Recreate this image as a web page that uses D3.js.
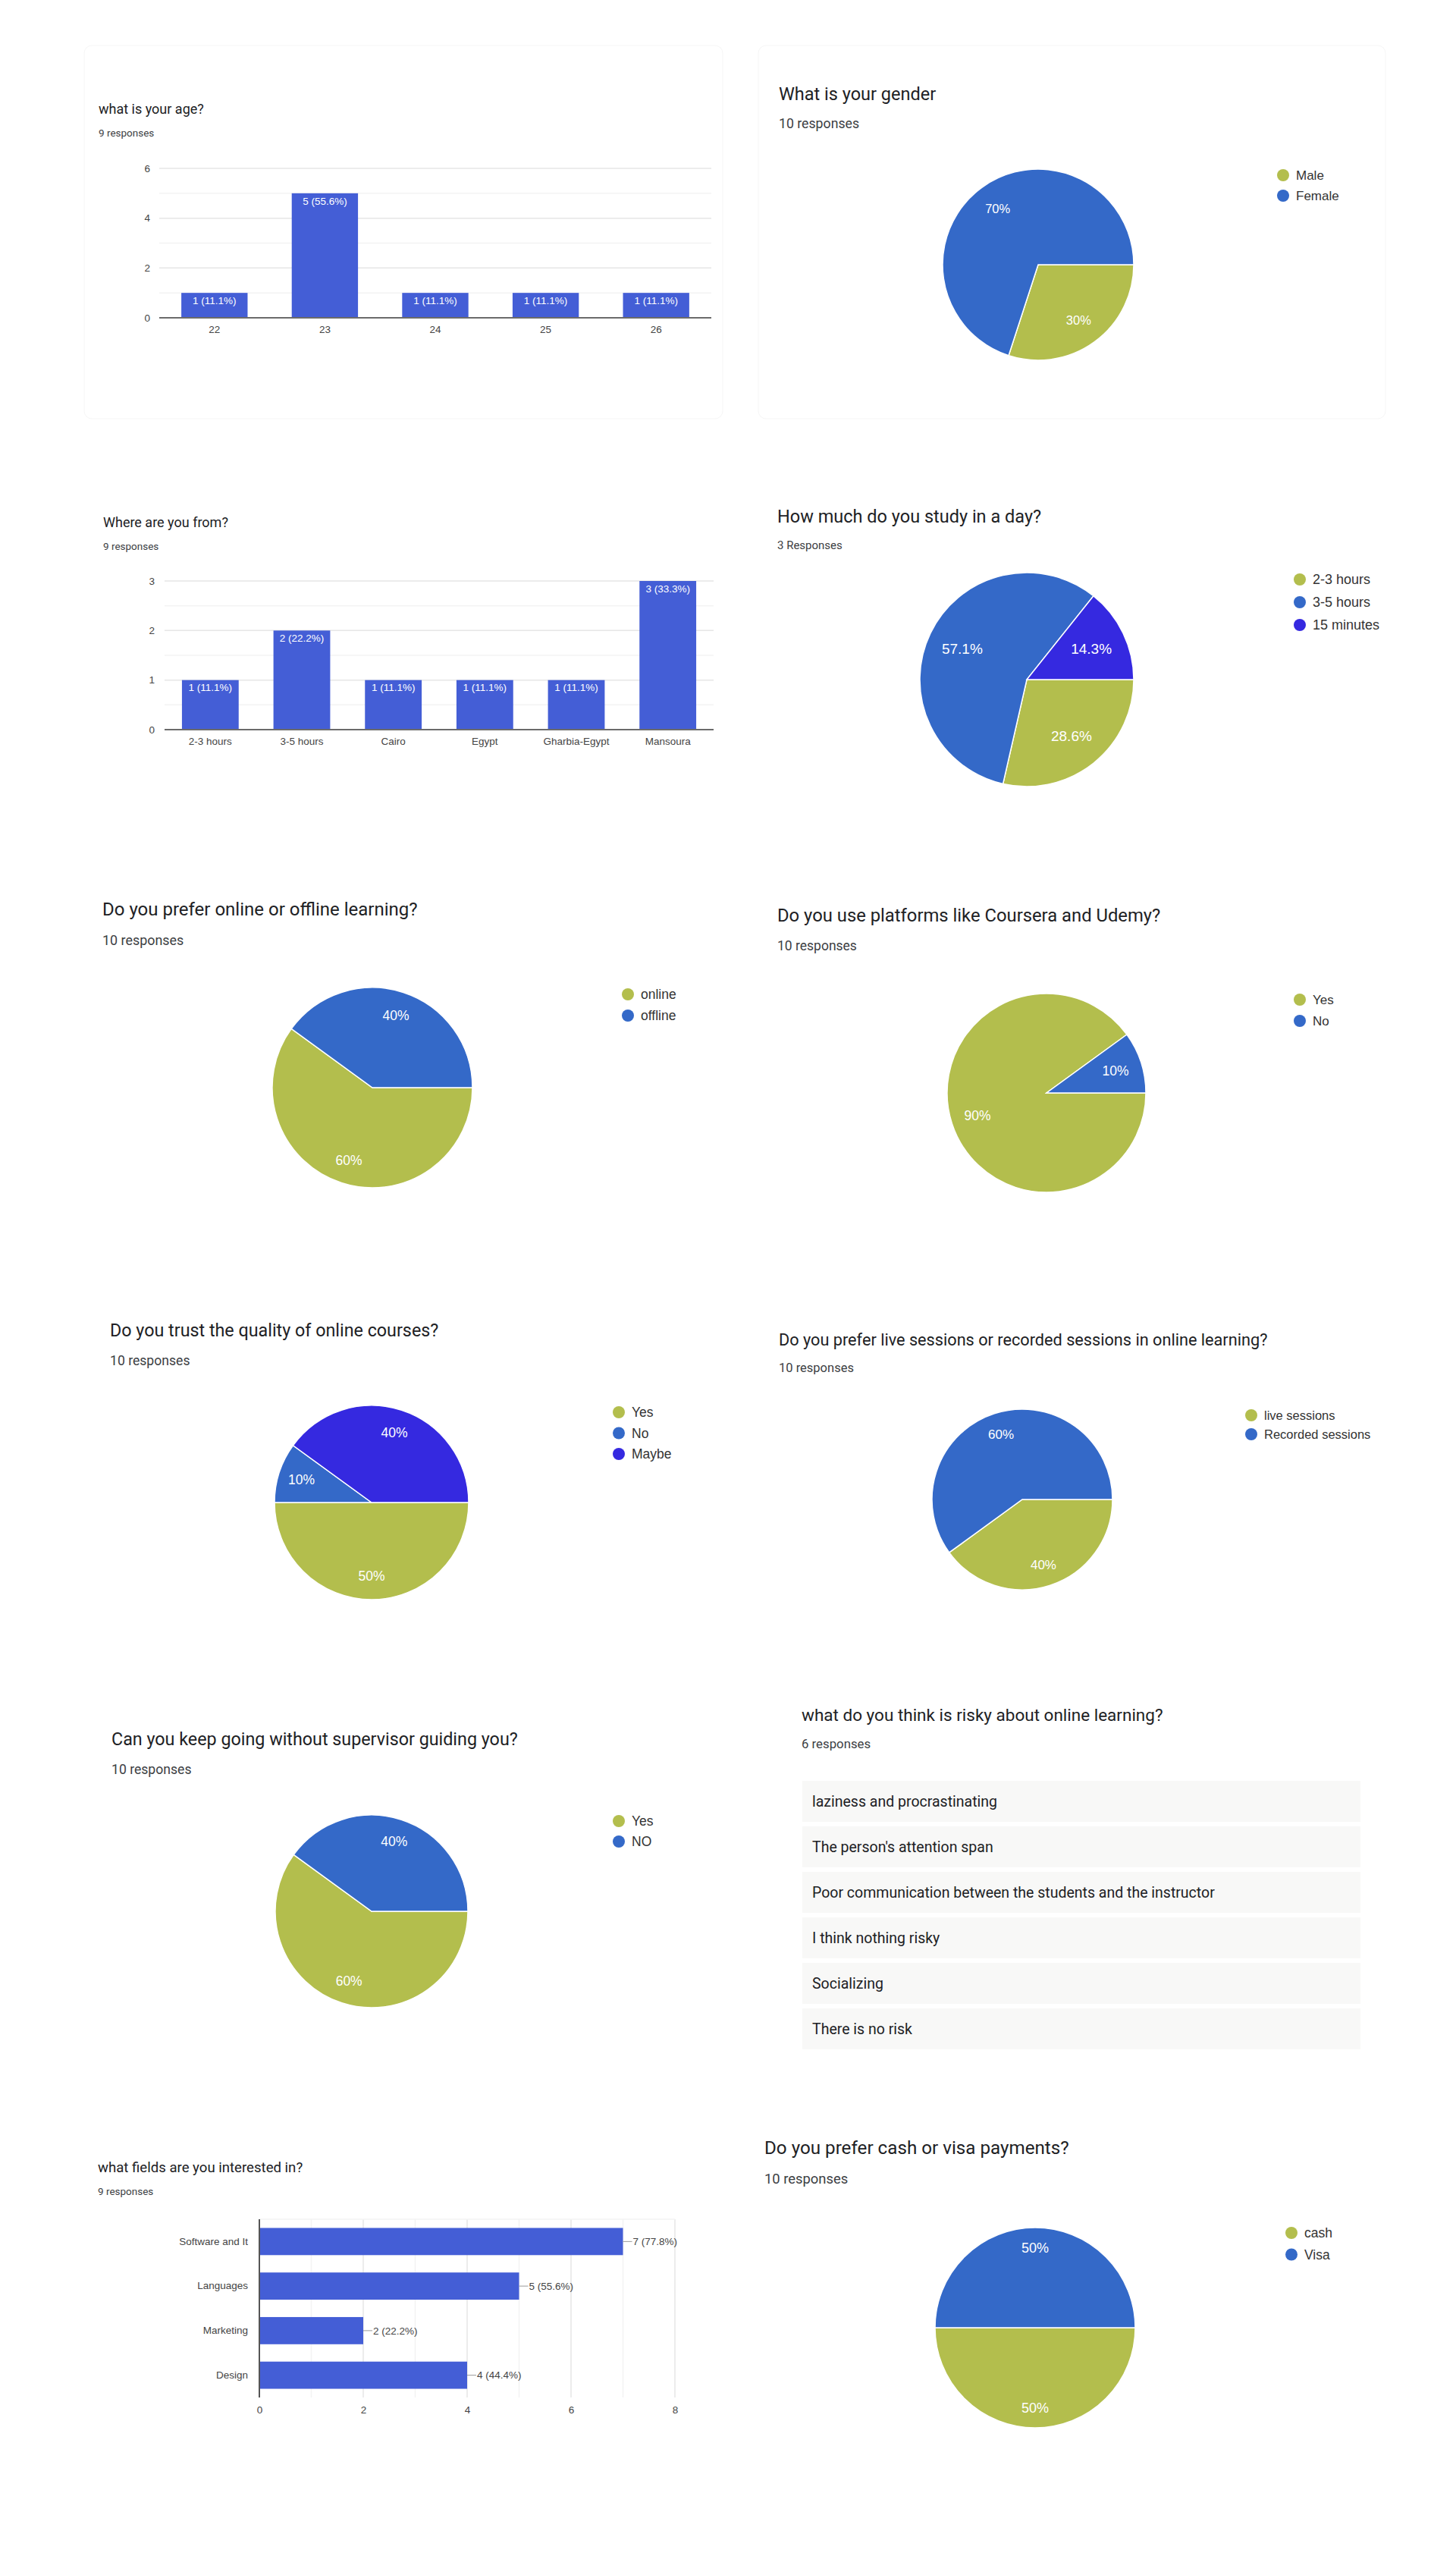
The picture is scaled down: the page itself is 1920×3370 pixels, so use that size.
<!DOCTYPE html>
<html>
<head>
<meta charset="utf-8">
<script src="https://cdn.jsdelivr.net/npm/d3@7"></script>
<style>
    body { margin: 0; background: #ffffff; }
    text { font-family: "Liberation Sans", Arial, sans-serif; }
    .title { font-family: Roboto, "Noto Sans", sans-serif; fill: #202124; }
    .resp { font-family: Roboto, "Noto Sans", sans-serif; fill: #3c4043; }
</style>
</head>
<body>
<div id="chart"></div>
<script>
// ---- data ----
const ageCategories = ['22', '23', '24', '25', '26'];
const ageCounts = [1, 5, 1, 1, 1];
const ageTicks = [0, 2, 4, 6];

const originCategories = ['2-3 hours', '3-5 hours', 'Cairo', 'Egypt', 'Gharbia-Egypt', 'Mansoura'];
const originCounts = [1, 2, 1, 1, 1, 3];
const originTicks = [0, 1, 2, 3];

const fieldCategories = ['Software and It', 'Languages', 'Marketing', 'Design'];
const fieldCounts = [7, 5, 2, 4];
const fieldTicks = [0, 2, 4, 6, 8];

const genderLabels = ['Male', 'Female'];
const genderCounts = [3, 7];
const studyLabels = ['2-3 hours', '3-5 hours', '15 minutes'];
const studyCounts = [2, 4, 1];
const modeLabels = ['online', 'offline'];
const modeCounts = [6, 4];
const platformLabels = ['Yes', 'No'];
const platformCounts = [9, 1];
const trustLabels = ['Yes', 'No', 'Maybe'];
const trustCounts = [5, 1, 4];
const sessionLabels = ['live sessions', 'Recorded sessions'];
const sessionCounts = [4, 6];
const supervisorLabels = ['Yes', 'NO'];
const supervisorCounts = [6, 4];
const paymentLabels = ['cash', 'Visa'];
const paymentCounts = [5, 5];

const riskAnswers = [
    'laziness and procrastinating',
    "The person's attention span",
    'Poor communication between the students and the instructor',
    'I think nothing risky',
    'Socializing',
    'There is no risk'
];

const sliceColors = ['#b3be4d', '#3469c8', '#3529e0'];
const barColor = '#445ed6';

const svg = d3.select('#chart')
    .append('svg')
    .attr('width', 1920)
    .attr('height', 3370);

svg.append('rect').attr('width', 1920).attr('height', 3370).attr('fill', '#ffffff');

// faint card outlines of the first two screenshots
[[111, 60, 842, 492], [1000, 60, 827, 492]].forEach(([x, y, w, h]) => {
    svg.append('rect')
        .attr('x', x).attr('y', y).attr('width', w).attr('height', h)
        .attr('rx', 10)
        .attr('fill', 'none')
        .attr('stroke', '#f6f6f6');
});

function header(p) {
    svg.append('text')
        .attr('class', 'title')
        .attr('x', p.x).attr('y', p.titleY).attr('dy', '0.35em')
        .style('font-size', p.titleSize + 'px')
        .text(p.title);
    svg.append('text')
        .attr('class', 'resp')
        .attr('x', p.x).attr('y', p.respY).attr('dy', '0.35em')
        .style('font-size', p.respSize + 'px')
        .text(p.resp);
}

const pct = v => (+(v * 100).toFixed(1)) + '%';

function drawColumns(cats, counts, ticks, total, p) {
    const g = svg.append('g');
    const top = d3.max(ticks);
    const x = d3.scaleBand().domain(cats).range([p.left, p.right])
        .paddingInner(p.pad).paddingOuter(p.pad / 2);
    const y = d3.scaleLinear().domain([0, top]).range([p.bottom, p.top]);

    g.selectAll('.grid')
        .data(d3.range(p.minor, top + 1e-9, p.minor))
        .enter().append('line')
        .attr('x1', p.left).attr('x2', p.right)
        .attr('y1', d => y(d)).attr('y2', d => y(d))
        .attr('stroke', d => ticks.includes(d) ? '#e6e6e6' : '#f3f3f3')
        .attr('stroke-width', 1.5);

    g.selectAll('.bar')
        .data(cats)
        .enter().append('rect')
        .attr('x', d => x(d))
        .attr('width', x.bandwidth())
        .attr('y', (d, i) => y(counts[i]))
        .attr('height', (d, i) => y(0) - y(counts[i]))
        .attr('fill', barColor);

    g.selectAll('.val')
        .data(cats)
        .enter().append('text')
        .attr('x', d => x(d) + x.bandwidth() / 2)
        .attr('y', (d, i) => y(counts[i]) + 10)
        .attr('dy', '0.35em')
        .attr('text-anchor', 'middle')
        .attr('fill', '#ffffff')
        .style('font-size', p.valueSize + 'px')
        .text((d, i) => `${counts[i]} (${(counts[i] / total * 100).toFixed(1)}%)`);

    g.append('line')
        .attr('x1', p.left).attr('x2', p.right)
        .attr('y1', y(0)).attr('y2', y(0))
        .attr('stroke', '#6b6b6b').attr('stroke-width', 2);

    const yAxis = g.append('g')
        .attr('transform', `translate(${p.left},0)`)
        .call(d3.axisLeft(y).tickValues(ticks).tickSize(0).tickPadding(p.yPad).tickFormat(d3.format('d')));
    const xAxis = g.append('g')
        .attr('transform', `translate(0,${p.bottom})`)
        .call(d3.axisBottom(x).tickSize(0).tickPadding(p.xPad));
    [yAxis, xAxis].forEach(a => {
        a.select('.domain').remove();
        a.selectAll('text')
            .attr('fill', '#444')
            .style('font-family', '"Liberation Sans", Arial, sans-serif')
            .style('font-size', p.tickSize + 'px');
    });
}

function drawBars(cats, counts, ticks, total, p) {
    const g = svg.append('g');
    const top = d3.max(ticks);
    const x = d3.scaleLinear().domain([0, top]).range([p.left, p.right]);
    const y = d3.scaleBand().domain(cats).range([p.top, p.bottom])
        .paddingInner(p.pad).paddingOuter(p.pad / 2);

    g.selectAll('.grid')
        .data(d3.range(1, top + 1))
        .enter().append('line')
        .attr('x1', d => x(d)).attr('x2', d => x(d))
        .attr('y1', p.top).attr('y2', p.bottom)
        .attr('stroke', d => ticks.includes(d) ? '#e6e6e6' : '#f3f3f3')
        .attr('stroke-width', 1.5);
    g.append('line')
        .attr('x1', p.left).attr('x2', p.right)
        .attr('y1', p.top).attr('y2', p.top)
        .attr('stroke', '#f3f3f3').attr('stroke-width', 1.5);

    g.selectAll('.bar')
        .data(cats)
        .enter().append('rect')
        .attr('x', x(0))
        .attr('y', d => y(d))
        .attr('width', (d, i) => x(counts[i]) - x(0))
        .attr('height', y.bandwidth())
        .attr('fill', barColor);

    g.selectAll('.lead')
        .data(cats)
        .enter().append('line')
        .attr('x1', (d, i) => x(counts[i]))
        .attr('x2', (d, i) => x(counts[i]) + 12)
        .attr('y1', d => y(d) + y.bandwidth() / 2)
        .attr('y2', d => y(d) + y.bandwidth() / 2)
        .attr('stroke', '#9a9a9a');

    g.selectAll('.val')
        .data(cats)
        .enter().append('text')
        .attr('x', (d, i) => x(counts[i]) + 13)
        .attr('y', d => y(d) + y.bandwidth() / 2)
        .attr('dy', '0.35em')
        .attr('fill', '#444')
        .style('font-size', p.valueSize + 'px')
        .text((d, i) => `${counts[i]} (${(counts[i] / total * 100).toFixed(1)}%)`);

    g.append('line')
        .attr('x1', p.left).attr('x2', p.left)
        .attr('y1', p.top).attr('y2', p.bottom)
        .attr('stroke', '#555').attr('stroke-width', 2);

    const yAxis = g.append('g')
        .attr('transform', `translate(${p.left},0)`)
        .call(d3.axisLeft(y).tickSize(0).tickPadding(p.yPad));
    const xAxis = g.append('g')
        .attr('transform', `translate(0,${p.bottom})`)
        .call(d3.axisBottom(x).tickValues(ticks).tickSize(0).tickPadding(p.xPad));
    [yAxis, xAxis].forEach(a => {
        a.select('.domain').remove();
        a.selectAll('text')
            .attr('fill', '#444')
            .style('font-family', '"Liberation Sans", Arial, sans-serif')
            .style('font-size', p.tickSize + 'px');
    });
}

function drawPie(labels, counts, p) {
    const g = svg.append('g').attr('transform', `translate(${p.cx},${p.cy})`);
    const total = d3.sum(counts);
    const pie = d3.pie().sort(null)
        .startAngle(Math.PI / 2)
        .endAngle(Math.PI / 2 + 2 * Math.PI);
    const arcs = pie(counts);
    const arc = d3.arc().innerRadius(0).outerRadius(p.r);
    const labelArc = d3.arc().innerRadius(p.r * p.lab).outerRadius(p.r * p.lab);

    g.selectAll('path')
        .data(arcs)
        .enter().append('path')
        .attr('d', arc)
        .attr('fill', (d, i) => sliceColors[i])
        .attr('stroke', '#ffffff')
        .attr('stroke-width', 1.5);

    g.selectAll('.pl')
        .data(arcs)
        .enter().append('text')
        .attr('transform', d => `translate(${labelArc.centroid(d)})`)
        .attr('dy', '0.35em')
        .attr('text-anchor', 'middle')
        .attr('fill', '#ffffff')
        .style('font-size', p.labelSize + 'px')
        .text(d => pct(d.data / total));

    const lg = svg.append('g');
    const item = lg.selectAll('.item')
        .data(labels)
        .enter().append('g')
        .attr('transform', (d, i) => `translate(${p.lx},${p.ly + i * p.lstep})`);
    item.append('circle')
        .attr('r', 8)
        .attr('fill', (d, i) => sliceColors[i]);
    item.append('text')
        .attr('x', 17)
        .attr('dy', '0.35em')
        .attr('fill', '#333')
        .style('font-size', p.legendSize + 'px')
        .text(d => d);
}

function drawAnswers(answers, p) {
    const y = d3.scaleBand().domain(answers).range([p.top, p.bottom]).paddingInner(0.1);
    const row = svg.append('g').selectAll('.row')
        .data(answers)
        .enter().append('g')
        .attr('transform', d => `translate(0,${y(d)})`);
    row.append('rect')
        .attr('x', p.left).attr('width', p.right - p.left)
        .attr('height', y.bandwidth())
        .attr('fill', '#f8f8f7');
    row.append('text')
        .attr('x', p.left + 13)
        .attr('y', y.bandwidth() / 2)
        .attr('dy', '0.35em')
        .style('font-family', 'Roboto, sans-serif')
        .style('font-size', p.size + 'px')
        .attr('fill', '#202124')
        .text(d => d);
}

// ---- panels ----
header({ x: 130, titleY: 144, titleSize: 18, title: 'what is your age?', respY: 175, respSize: 13.5, resp: '9 responses' });
drawColumns(ageCategories, ageCounts, ageTicks, 9, {
    left: 210, right: 938, top: 222, bottom: 419, pad: 0.4, minor: 1,
    valueSize: 13.5, tickSize: 13.5, yPad: 12, xPad: 10
});

header({ x: 1027, titleY: 124, titleSize: 23.5, title: 'What is your gender', respY: 163, respSize: 17.7, resp: '10 responses' });
drawPie(genderLabels, genderCounts, {
    cx: 1369, cy: 349, r: 126, lab: 0.72, labelSize: 16.5,
    lx: 1692, ly: 231, lstep: 27, legendSize: 17
});

header({ x: 136, titleY: 689, titleSize: 18, title: 'Where are you from?', respY: 720, respSize: 13.5, resp: '9 responses' });
drawColumns(originCategories, originCounts, originTicks, 9, {
    left: 217, right: 941, top: 766, bottom: 962, pad: 0.38, minor: 0.5,
    valueSize: 13.5, tickSize: 13.5, yPad: 13, xPad: 10
});

header({ x: 1025, titleY: 681, titleSize: 23.5, title: 'How much do you study in a day?', respY: 719, respSize: 15, resp: '3 Responses' });
drawPie(studyLabels, studyCounts, {
    cx: 1354, cy: 896, r: 141, lab: 0.67, labelSize: 19,
    lx: 1714, ly: 764, lstep: 30, legendSize: 18
});

header({ x: 135, titleY: 1199, titleSize: 24, title: 'Do you prefer online or offline learning?', respY: 1240, respSize: 17.9, resp: '10 responses' });
drawPie(modeLabels, modeCounts, {
    cx: 491, cy: 1434, r: 132, lab: 0.76, labelSize: 17.5,
    lx: 828, ly: 1311, lstep: 28, legendSize: 17.5
});

header({ x: 1025, titleY: 1207, titleSize: 23.8, title: 'Do you use platforms like Coursera and Udemy?', respY: 1247, respSize: 17.5, resp: '10 responses' });
drawPie(platformLabels, platformCounts, {
    cx: 1380, cy: 1441, r: 131, lab: 0.73, labelSize: 17.5,
    lx: 1714, ly: 1318, lstep: 28, legendSize: 17
});

header({ x: 145, titleY: 1754, titleSize: 23.3, title: 'Do you trust the quality of online courses?', respY: 1794, respSize: 17.6, resp: '10 responses' });
drawPie(trustLabels, trustCounts, {
    cx: 490, cy: 1981, r: 128, lab: 0.76, labelSize: 17.5,
    lx: 816, ly: 1862, lstep: 27.5, legendSize: 17.5
});

header({ x: 1027, titleY: 1766, titleSize: 21.7, title: 'Do you prefer live sessions or recorded sessions in online learning?', respY: 1803, respSize: 16.5, resp: '10 responses' });
drawPie(sessionLabels, sessionCounts, {
    cx: 1348, cy: 1977, r: 119, lab: 0.76, labelSize: 17,
    lx: 1650, ly: 1866, lstep: 25, legendSize: 16.5
});

header({ x: 147, titleY: 2293, titleSize: 23.3, title: 'Can you keep going without supervisor guiding you?', respY: 2333, respSize: 17.6, resp: '10 responses' });
drawPie(supervisorLabels, supervisorCounts, {
    cx: 490, cy: 2520, r: 127, lab: 0.76, labelSize: 17.5,
    lx: 816, ly: 2401, lstep: 27, legendSize: 17.5
});

header({ x: 1057, titleY: 2261, titleSize: 22.5, title: 'what do you think is risky about online learning?', respY: 2299, respSize: 16.8, resp: '6 responses' });
drawAnswers(riskAnswers, { left: 1058, right: 1794, top: 2348, bottom: 2702, size: 19.5 });

header({ x: 129, titleY: 2857, titleSize: 18.6, title: 'what fields are you interested in?', respY: 2889, respSize: 13.5, resp: '9 responses' });
drawBars(fieldCategories, fieldCounts, fieldTicks, 9, {
    left: 342, right: 890, top: 2926, bottom: 3161, pad: 0.39,
    valueSize: 13.5, tickSize: 13.5, yPad: 15, xPad: 11
});

header({ x: 1008, titleY: 2832, titleSize: 24.2, title: 'Do you prefer cash or visa payments?', respY: 2873, respSize: 18.4, resp: '10 responses' });
drawPie(paymentLabels, paymentCounts, {
    cx: 1365, cy: 3069, r: 132, lab: 0.8, labelSize: 18,
    lx: 1703, ly: 2944, lstep: 28.5, legendSize: 17.5
});
</script>
</body>
</html>
